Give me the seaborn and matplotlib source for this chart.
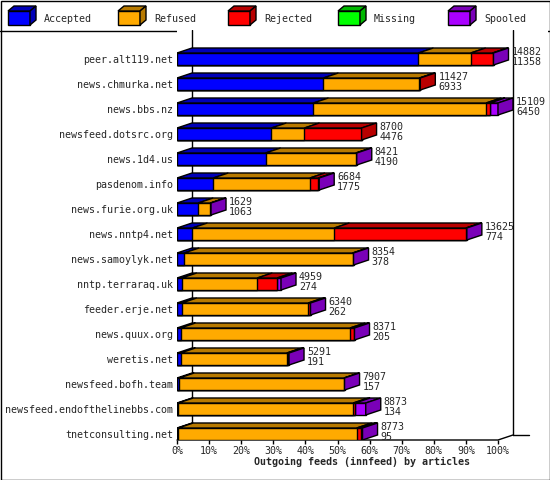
import numpy as np
import pandas as pd
import seaborn as sns
import matplotlib
matplotlib.use("Agg")
from matplotlib import pyplot as plt
from matplotlib.patches import Polygon, Rectangle
from matplotlib.colors import to_rgb

sns.set_style("white")
plt.rcParams['font.family'] = ['DejaVu Sans Mono']

# data (bar segments in % of the largest feed)
servers = ['peer.alt119.net', 'news.chmurka.net', 'news.bbs.nz', 'newsfeed.dotsrc.org',
           'news.1d4.us', 'pasdenom.info', 'news.furie.org.uk', 'news.nntp4.net',
           'news.samoylyk.net', 'nntp.terraraq.uk', 'feeder.erje.net', 'news.quux.org',
           'weretis.net', 'newsfeed.bofh.team', 'newsfeed.endofthelinebbs.com',
           'tnetconsulting.net']
accepted = [75.2, 45.6, 42.5, 29.4, 27.6, 11.3, 6.6, 4.8, 2.2, 1.5, 1.5, 1.1, 1.1, 0.7, 0.4, 0.4]
refused = [16.3, 29.9, 53.8, 10.3, 28.1, 30.1, 3.8, 44.2, 52.5, 23.5, 39.4, 52.8, 33.1, 51.3, 54.5, 55.6]
rejected = [6.8, 0.3, 1.2, 17.8, 0.0, 2.6, 0.0, 41.0, 0.0, 6.2, 0.5, 1.2, 0.5, 0.0, 0.6, 1.3]
missing = [0.0] * 16
spooled = [0.3, 0.0, 2.5, 0.0, 0.3, 0.3, 0.2, 0.3, 0.3, 1.2, 0.2, 0.2, 0.2, 0.2, 3.3, 0.5]
totals = [14882, 11427, 15109, 8700, 8421, 6684, 1629, 13625, 8354, 4959, 6340, 8371, 5291, 7907, 8873, 8773]
acc_counts = [11358, 6933, 6450, 4476, 4190, 1775, 1063, 774, 378, 274, 262, 205, 191, 157, 134, 95]

names = ['Accepted', 'Refused', 'Rejected', 'Missing', 'Spooled']
colors = ['#0000ff', '#ffaa00', '#ff0000', '#00ff00', '#aa00ff']

def dark(c):
    r, g, b = to_rgb(c)
    return (r * 0.72, g * 0.72, b * 0.72)

segs = np.array([accepted, refused, rejected, missing, spooled])
cum = np.cumsum(segs, axis=0)

PX = 100 / 321.0       # % per pixel
RY = 1 / 25.0          # rows per pixel
DX, DY = 15 * PX, 5 * RY
BH = 0.48
FS = 7.2

fig = plt.figure(figsize=(5.5, 4.8), dpi=100)
ax = fig.add_axes([177 / 550, 1 - 440 / 480, (548 - 177) / 550, 410 / 480])
XMAX = 371 * PX
YB, YT = 15.24, -1.16

df = pd.DataFrame({'server': servers})
for k in range(4, -1, -1):
    df['v'] = cum[k]
    sns.barplot(data=df, x='v', y='server', orient='h', color=colors[k], saturation=1,
                width=BH, edgecolor='black', linewidth=1, ax=ax, zorder=3)

for i in range(len(servers)):
    top = i - BH / 2
    left = 0
    last = 0
    for k in range(5):
        w = segs[k, i]
        if w <= 0:
            continue
        ax.add_patch(Polygon([(left, top), (left + DX, top - DY), (left + w + DX, top - DY), (left + w, top)],
                             closed=True, fc=dark(colors[k]), ec='black', lw=1, zorder=4))
        left += w
        last = k
    ax.add_patch(Polygon([(left, top), (left + DX, top - DY), (left + DX, top + BH - DY), (left, top + BH)],
                         closed=True, fc=dark(colors[last]), ec='black', lw=1, zorder=4))
    ax.text(left + DX + 3 * PX, top - DY - 0.05, '%d\n%d' % (totals[i], acc_counts[i]),
            fontsize=FS, va='top', ha='left', linespacing=1.0, zorder=5)

ax.set_xlim(0, XMAX)
ax.set_ylim(YB, YT)

# frame: back walls and floor
ax.plot([DX, DX], [YT, YB - DY], color='black', lw=1, zorder=1)
ax.plot([100 + DX, 100 + DX], [YT, YB - DY], color='black', lw=1, zorder=1)
ax.plot([0, 100, 100 + DX], [YB, YB, YB - DY], color='black', lw=1, clip_on=False, zorder=2)
ax.plot([100 + DX, 105 + DX], [YB - DY, YB - DY], color='black', lw=1, zorder=2)
for s in ax.spines.values():
    s.set_visible(False)
ax.set_xticks(range(0, 101, 10))
ax.set_xticklabels(['%d%%' % t for t in range(0, 101, 10)], fontsize=FS)
ax.tick_params(axis='x', length=3, width=1, color='black', bottom=True, pad=1)
ax.tick_params(axis='y', length=0, labelsize=FS, pad=3)
ax.set_xlabel('Outgoing feeds (innfeed) by articles', fontsize=FS, fontweight='bold', labelpad=1)
ax.set_ylabel('')

# legend strip and borders
lg = fig.add_axes([0, 0, 1, 1], zorder=-1)
lg.set_xlim(0, 550)
lg.set_ylim(480, 0)
lg.axis('off')
lg.add_patch(Rectangle((0.5, 0.5), 549, 479, fill=False, ec='black', lw=1))
lg.plot([0, 550], [31, 31], color='black', lw=1)
for k, nm in enumerate(names):
    x0 = 8 + k * 110
    lg.add_patch(Rectangle((x0, 11), 22, 14, fc=colors[k], ec='black', lw=1))
    lg.add_patch(Polygon([(x0, 11), (x0 + 6, 6), (x0 + 28, 6), (x0 + 22, 11)], fc=dark(colors[k]), ec='black', lw=1))
    lg.add_patch(Polygon([(x0 + 22, 11), (x0 + 28, 6), (x0 + 28, 20), (x0 + 22, 25)], fc=dark(colors[k]), ec='black', lw=1))
    lg.text(x0 + 36, 19, nm, fontsize=FS, va='center')

fig.savefig('out.png', dpi=100)
